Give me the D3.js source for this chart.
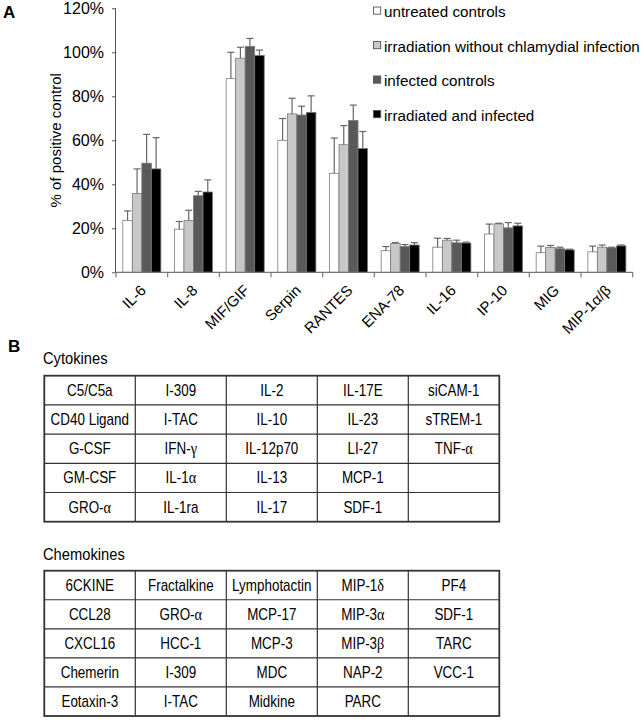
<!DOCTYPE html>
<html>
<head>
<meta charset="utf-8">
<script src="https://cdn.jsdelivr.net/npm/d3@7"></script>
<style>
  html, body { margin: 0; padding: 0; background: #fff; }
  svg { display: block; font-family: "Liberation Sans", Arial, sans-serif; }
</style>
</head>
<body>
<svg id="chart" width="644" height="721"></svg>
<script>
// ---------- DATA ----------
const categories = ["IL-6","IL-8","MIF/GIF","Serpin","RANTES","ENA-78","IL-16","IP-10","MIG","MIP-1α/β"];
const seriesNames = ["untreated controls","irradiation without chlamydial infection","infected controls","irradiated and infected"];
// values in % of positive control
const untreated     = [23.6, 19.6, 88.0, 60.0, 45.0,  9.8, 11.4, 17.4,  8.9,  9.3];
const irradiation   = [35.8, 23.6, 97.3, 72.0, 58.0, 13.1, 14.6, 22.0, 11.3, 11.4];
const infected      = [49.6, 34.8,102.7, 71.5, 69.0, 11.7, 13.4, 20.2, 10.7, 11.1];
const irradInfected = [47.0, 36.5, 98.6, 72.7, 56.3, 12.4, 13.3, 21.1, 10.2, 12.0];
// error (upper) in %
const untreatedErr     = [ 4.3, 3.5, 12.0, 9.9, 16.0, 1.9, 4.1, 4.5, 3.0, 2.6];
const irradiationErr   = [11.2, 4.6,  5.0, 7.1,  8.7, 0.4, 0.8, 0.3, 0.9, 1.0];
const infectedErr      = [13.1, 2.0,  3.6, 4.0,  7.0, 0.9, 1.2, 2.4, 0.7, 0.3];
const irradInfectedErr = [14.2, 5.5,  2.4, 7.5,  7.7, 1.1, 0.4, 1.2, 0.3, 0.4];
const yTicks = [0, 20, 40, 60, 80, 100, 120];

const cytokines = [
  ["C5/C5a","I-309","IL-2","IL-17E","siCAM-1"],
  ["CD40 Ligand","I-TAC","IL-10","IL-23","sTREM-1"],
  ["G-CSF","IFN-γ","IL-12p70","LI-27","TNF-α"],
  ["GM-CSF","IL-1α","IL-13","MCP-1",""],
  ["GRO-α","IL-1ra","IL-17","SDF-1",""]
];
const chemokines = [
  ["6CKINE","Fractalkine","Lymphotactin","MIP-1δ","PF4"],
  ["CCL28","GRO-α","MCP-17","MIP-3α","SDF-1"],
  ["CXCL16","HCC-1","MCP-3","MIP-3β","TARC"],
  ["Chemerin","I-309","MDC","NAP-2","VCC-1"],
  ["Eotaxin-3","I-TAC","Midkine","PARC",""]
];

// ---------- STYLE ----------
const fills = ["#ffffff", "#c8c8c8", "#595959", "#000000"];
const strokeCol = "#7a7a7a";
const svg = d3.select("#chart");

const values = [untreated, irradiation, infected, irradInfected];
const errs = [untreatedErr, irradiationErr, infectedErr, irradInfectedErr];

// ---------- PANEL A ----------
const plotL = 116, plotR = 632.7, plotB = 272.3, plotT = 8.3;
const x0 = d3.scaleBand().domain(categories).range([plotL, plotR]).padding(0);
const x1 = d3.scaleBand().domain(d3.range(4)).range([6.8, x0.bandwidth() - 6.8]).padding(0);
const y = d3.scaleLinear().domain([0, 120]).range([plotB, plotT]);

svg.append("text").attr("x", 3).attr("y", 18).attr("font-size", 17).attr("font-weight", "bold").text("A");

// y axis
const yAxis = svg.append("g").attr("transform", `translate(${plotL},0)`)
  .call(d3.axisLeft(y).tickValues(yTicks).tickSize(4).tickPadding(8).tickFormat(d => d + "%"));
yAxis.selectAll("text").attr("font-size", 16).attr("fill", "#000").attr("font-family", "Liberation Sans, Arial, sans-serif");
yAxis.selectAll("line").attr("stroke", "#555");
yAxis.select(".domain").attr("stroke", "#555").attr("d", `M-0.5,${plotT}V${plotB}`);

svg.append("text")
  .attr("transform", `translate(61,${(plotT + plotB) / 2}) rotate(-90)`)
  .attr("text-anchor", "middle").attr("font-size", 15).text("% of positive control");

// bars
const groups = svg.append("g").selectAll("g").data(categories).join("g")
  .attr("transform", d => `translate(${x0(d)},0)`);
groups.each(function(cat, ci) {
  const g = d3.select(this);
  for (let s = 0; s < 4; s++) {
    const v = values[s][ci], e = errs[s][ci];
    const bx = x1(s), bw = x1.bandwidth();
    g.append("rect").attr("x", bx).attr("y", y(v)).attr("width", bw).attr("height", y(0) - y(v))
      .attr("fill", fills[s]).attr("stroke", strokeCol).attr("stroke-width", 0.8);
    const cx = bx + bw / 2;
    g.append("line").attr("x1", cx).attr("x2", cx).attr("y1", y(v)).attr("y2", y(v + e))
      .attr("stroke", "#666").attr("stroke-width", 1.2);
    g.append("line").attr("x1", cx - 3.5).attr("x2", cx + 3.5).attr("y1", y(v + e)).attr("y2", y(v + e))
      .attr("stroke", "#666").attr("stroke-width", 1.2);
  }
});

// x axis
const xg = svg.append("g");
xg.append("line").attr("x1", plotL).attr("x2", plotR).attr("y1", plotB).attr("y2", plotB)
  .attr("stroke", "#777").attr("stroke-width", 1.2);
const tickXs = categories.map(c => x0(c)).concat([plotR]);
xg.selectAll("line.tk").data(tickXs).join("line").attr("class", "tk")
  .attr("x1", d => d).attr("x2", d => d).attr("y1", plotB).attr("y2", plotB + 5)
  .attr("stroke", "#777").attr("stroke-width", 1.2);
xg.selectAll("text").data(categories).join("text")
  .attr("transform", d => `translate(${x0(d) + x0.bandwidth() / 2 + 5},${plotB + 19}) rotate(-45)`)
  .attr("text-anchor", "end").attr("font-size", 15).text(d => d);

// legend
const leg = svg.append("g");
seriesNames.forEach((n, i) => {
  const by = 17 + i * 34.5;
  leg.append("rect").attr("x", 373.5).attr("y", by - 10).attr("width", 7.2).attr("height", 7.2)
    .attr("fill", fills[i]).attr("stroke", "#555").attr("stroke-width", 0.9);
  leg.append("text").attr("x", 384).attr("y", by).attr("font-size", 15.2).text(n);
});

// ---------- PANEL B ----------
svg.append("text").attr("x", 8).attr("y", 352).attr("font-size", 17).attr("font-weight", "bold").text("B");

function greekText(sel, str) {
  const parts = [];
  let cur = "", curG = null;
  for (const ch of str) {
    const g = /[\u0370-\u03ff]/.test(ch);
    if (curG === null || g === curG) { cur += ch; curG = g; }
    else { parts.push([cur, curG]); cur = ch; curG = g; }
  }
  if (cur) parts.push([cur, curG]);
  parts.forEach(([t, g]) => {
    const ts = sel.append("tspan").text(t);
    if (g) ts.attr("font-family", "Liberation Serif, Times New Roman, serif").attr("font-size", 17);
  });
}

function drawTable(data, title, titleY, top, bottom) {
  const cols = d3.scaleBand().domain(d3.range(5)).range([44.3, 499.3]);
  const rows = d3.scaleBand().domain(d3.range(data.length)).range([top, bottom]);
  svg.append("text").attr("transform", `translate(43,${titleY}) scale(0.92,1)`)
    .attr("font-size", 16).text(title);
  const g = svg.append("g");
  for (let i = 1; i < 5; i++) {
    g.append("line").attr("x1", cols(i)).attr("x2", cols(i)).attr("y1", top).attr("y2", bottom)
      .attr("stroke", "#333").attr("stroke-width", 1.2);
  }
  for (let j = 1; j < data.length; j++) {
    g.append("line").attr("x1", cols(0)).attr("x2", cols(4) + cols.bandwidth()).attr("y1", rows(j)).attr("y2", rows(j))
      .attr("stroke", "#333").attr("stroke-width", 1.2);
  }
  g.append("rect").attr("x", cols(0)).attr("y", top).attr("width", 455).attr("height", bottom - top)
    .attr("fill", "none").attr("stroke", "#333").attr("stroke-width", 1.8);
  data.forEach((row, r) => {
    row.forEach((cell, c) => {
      if (!cell) return;
      const t = g.append("text")
        .attr("transform", `translate(${cols(c) + cols.bandwidth() / 2},${rows(r) + rows.bandwidth() / 2 + 5.5}) scale(0.84,1)`)
        .attr("text-anchor", "middle").attr("font-size", 16);
      greekText(t, cell);
    });
  });
}
drawTable(cytokines, "Cytokines", 363.5, 375.7, 521.7);
drawTable(chemokines, "Chemokines", 560, 570.7, 716);
</script>
</body>
</html>
